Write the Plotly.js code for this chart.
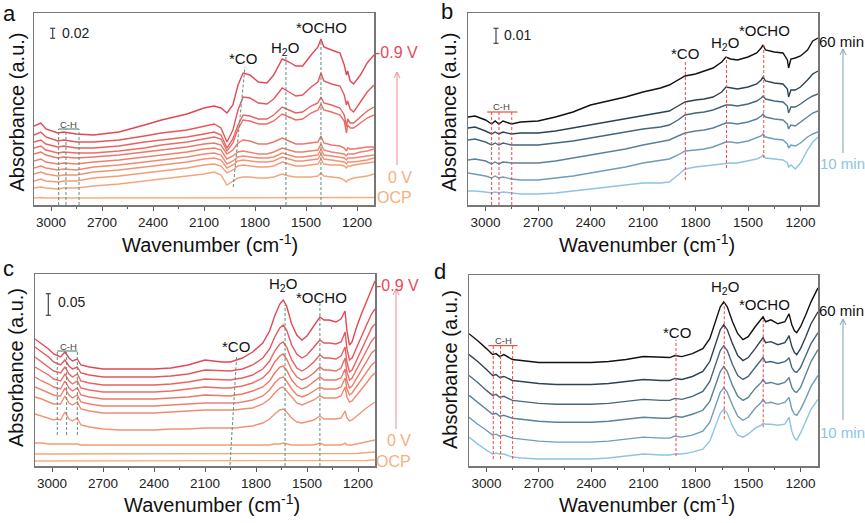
<!DOCTYPE html>
<html><head><meta charset="utf-8">
<script src="https://cdn.plot.ly/plotly-3.0.1.min.js"></script>
<style>html,body{margin:0;padding:0;background:#fff}#chart{width:865px;height:523px}</style>
</head><body><div id="chart"></div>
<script>
// ---------------- DATA ----------------
// Panel a: potential series (wavenumber, cm-1) ; values in a.u. (stacked)
const wnA = [3100,3060,3030,2960,2925,2850,2750,2600,2450,2350,2200,2100,2040,2000,1965,1930,1900,1870,1830,1780,1730,1690,1640,1600,1560,1520,1470,1430,1412,1395,1350,1300,1275,1262,1255,1240,1220,1180,1140,1100];
const a_OCP = [7,7.5,7,7,7.5,7,7,7.5,7,7.5,7,7.5,7,7,7.5,7,7,7.5,7,7,7.5,7,7.5,7,7,7.5,7,7,7.5,7,7,7.5,7,7,7.5,7,7.5,7,7.5,7.5];
const a_0V  = [17,18,17,16,17,17,19,21,24,26,29,31,33,30,20,24,27,28,28,27,27,28,31,29,28,28,28,29,32,29,28,27,25,23,25,26,27,28,29,31];
const a_m01 = [24,26,24,23,24,24,27,29,32,34,37,40,41,39,32,35,39,40,39,38,38,39,43,41,39,39,40,41,46,41,40,40,39,37,39,39,40,41,42,43];
const a_m02 = [31,33,31,29,30,30,33,35,38,40,43,46,47,45,37,40,44,45,44,43,43,44,48,46,44,44,45,46,51,46,45,44,43,41,43,43,43,44,45,47];
const a_m03 = [37,39,37,35,36,35,38,40,43,45,48,51,52,50,41,44,48,49,48,47,47,48,52,50,48,48,49,50,56,50,49,48,47,45,47,47,47,48,49,50];
const a_m04 = [44,46,43,41,42,41,43,45,48,50,53,56,57,55,46,49,53,54,53,51,51,53,57,55,53,53,54,55,61,55,53,52,51,49,51,51,51,53,54,56];
const a_m05 = [51,53,50,47,48,47,48,50,53,55,58,61,62,60,51,55,62,65,64,61,61,63,67,64,61,61,62,63,69,62,60,59,57,54,57,56,56,57,58,58];
const a_m06 = [57,59,55,52,53,52,52,54,57,60,63,66,68,66,54,62,76,85,84,81,81,84,91,88,85,86,92,95,101,95,93,90,84,72,80,77,77,82,87,90];
const a_m07 = [63,65,61,58,59,57,57,59,63,65,68,71,73,70,57,66,80,90,89,86,86,90,98,95,92,93,99,102,108,102,100,97,90,78,86,82,82,88,94,98];
const a_m08 = [70,73,68,64,65,63,63,65,69,72,75,79,81,77,63,75,95,108,107,102,101,106,117,113,109,110,118,123,132,124,121,119,110,100,104,96,93,103,113,120];
const a_m09 = [79,82,76,72,73,71,70,73,80,85,91,97,99,97,92,100,120,132,130,123,122,130,146,143,139,139,150,158,166,158,155,152,140,130,134,124,121,130,142,150];

// Panel b: time series
const wnB = [3100,3060,3000,2965,2945,2924,2900,2851,2800,2700,2600,2500,2400,2300,2200,2100,2000,1950,1900,1860,1800,1750,1700,1650,1626,1600,1560,1500,1450,1425,1414,1400,1350,1300,1275,1268,1255,1230,1200,1160,1130,1100];
const b_10 = [14,14,13,12,13,12,13,12,11,11,12,14,16,18,20,22,22,23,30,36,38,39,40,41,42,42,42,44,46,48,50,47,46,45,42,38,40,36,42,55,63,68];
const b_20 = [32,31,29,27,29,27,28,26,25,25,27,29,32,35,38,42,45,46,50,54,55,56,58,61,63,63,62,64,67,69,71,68,66,65,61,57,60,59,62,68,71,73];
const b_30 = [45,46,44,41,43,41,43,42,42,42,44,47,50,53,56,60,63,65,69,72,74,75,77,80,82,82,81,83,86,89,91,88,86,85,81,76,80,79,83,88,92,94];
const b_40 = [65,66,63,60,62,60,62,60,60,60,62,64,67,70,73,76,78,80,85,90,92,93,95,98,100,100,99,101,104,107,109,106,104,103,99,92,98,98,101,106,109,111];
const b_50 = [77,78,74,71,73,71,73,71,72,72,74,77,80,83,86,89,92,94,99,103,105,106,108,113,118,117,116,118,121,125,128,124,122,121,116,108,115,115,118,125,131,134];
const b_60 = [88,89,85,81,84,81,84,81,83,84,88,93,100,104,108,113,117,120,125,129,131,134,137,143,148,146,145,148,152,157,160,155,153,152,145,137,146,147,149,155,164,167];

// Panel c: potential series
const wnC = [3100,3060,3020,2990,2969,2950,2924,2900,2880,2851,2830,2780,2700,2600,2500,2400,2300,2200,2100,2000,1950,1920,1880,1820,1760,1720,1690,1660,1640,1620,1590,1560,1530,1500,1460,1424,1400,1370,1330,1300,1285,1276,1265,1250,1235,1210,1180,1150,1120,1100];
const c_OCP = [5,5,5,5,5,5,5,5,5,5,5,5,5,5,5,5,5,5,5,5,5,5,5,5,5,5,5,5,5,5,5,5,5,5,5,5,5,5,5,5,5,5,5,5,5,5,5,5.5,6,6];
const c_0V  = [12,12,12,12,12,12,12,12,12,12,12,12,12,12,12,12,12,12,12,12,12,12,12,12,12,12,12,12,12,12,12,12,12,12,12,12.5,12,12,12,12,12,12,12,12,12,12.5,13,13.5,14,14];
const c_m01 = [23,23,22,22,22,22,22,22,22,22,21,21,21,21,21,21,21,21,21,21,21,21,21,21,21,21,22,22,23,22,21,21,21,21,21,23,21,21,21,21,22,23,21,21,21,22,23,24,25,26];
const c_m02 = [52,50,48,46,47,46,54,47,45,48,41,39,37,36,36,36,37,37,38,38,38,38,39,40,43,47,52,56,57,54,48,44,43,44,46,50,47,47,47,48,52,55,48,45,46,50,54,58,62,64];
const c_m03 = [69,67,64,62,62,62,70,63,61,64,57,55,53,53,53,53,54,55,56,56,56,56,57,58,62,67,73,78,79,75,68,63,61,63,66,70,68,68,68,70,75,79,69,64,65,70,77,83,90,93];
const c_m04 = [79,76,73,71,70,70,78,71,68,71,64,62,60,60,60,60,61,62,63,63,63,63,64,66,70,76,83,88,89,85,77,71,69,71,75,79,77,77,77,79,84,88,77,71,73,79,87,94,101,104];
const c_m05 = [89,85,82,79,78,77,85,78,75,78,71,69,67,67,67,67,68,69,71,70,70,71,72,75,79,85,93,99,100,96,86,80,77,79,84,89,86,86,86,88,93,97,85,78,80,87,96,105,113,116];
const c_m06 = [99,95,91,87,86,85,92,85,82,85,78,76,74,74,74,74,75,77,79,78,78,79,80,83,88,95,104,110,112,107,96,89,86,88,93,99,96,96,95,98,104,108,94,86,88,96,106,116,125,129];
const c_m07 = [109,104,99,95,94,93,99,92,89,92,85,83,81,81,81,81,82,84,87,86,86,87,88,91,97,105,115,122,124,119,106,98,95,98,104,111,108,108,107,110,116,119,104,94,96,105,117,128,138,142];
const c_m08 = [119,114,109,104,102,101,106,100,97,99,93,91,89,89,89,89,90,92,96,95,95,96,97,101,108,117,129,138,141,136,121,112,108,111,119,126,123,123,122,124,130,134,117,106,108,118,130,141,152,157];
const c_m09 = [127,122,117,112,110,109,114,108,105,107,101,99,97,97,97,97,98,101,106,104,104,106,108,114,123,135,150,162,166,160,142,131,126,130,140,149,146,146,144,147,152,155,135,121,124,138,152,165,178,185];

// Panel d: time series
const wnD = [3100,3050,3000,2965,2945,2924,2900,2851,2800,2700,2600,2500,2400,2300,2200,2100,2000,1950,1920,1880,1820,1760,1720,1690,1660,1640,1620,1590,1560,1530,1500,1460,1425,1415,1400,1370,1330,1290,1275,1266,1250,1235,1222,1200,1170,1140,1100];
const d_10 = [29,22,16,12,13,12,12,9,8,7,7,7,7,8,10,12,11,11,12,12,14,17,25,40,53,57,53,40,31,29,32,38,41,43,42,42,41,42,46,49,35,28,26,33,45,57,67];
const d_20 = [49,42,36,31,32,30,31,28,27,25,24,24,24,25,27,29,28,28,30,29,31,35,44,60,74,79,74,61,50,46,49,58,64,67,63,64,62,64,67,69,57,52,51,57,68,80,91];
const d_30 = [71,64,57,52,53,50,51,48,47,45,44,44,44,45,47,49,48,48,50,49,52,56,65,81,95,100,95,81,70,66,69,78,84,87,83,84,82,84,87,89,79,75,74,79,92,105,117];
const d_40 = [91,84,76,71,72,69,70,66,65,63,62,62,62,63,65,67,66,66,68,67,70,75,85,101,116,121,116,102,91,87,90,99,106,109,104,105,103,105,107,109,99,95,94,99,111,123,134];
const d_50 = [112,105,97,91,92,89,90,86,85,83,82,82,82,83,85,87,86,86,88,87,90,95,105,122,137,142,137,123,111,106,109,118,126,129,124,125,122,124,128,131,120,114,112,118,130,143,155];
const d_60 = [133,126,118,112,113,110,112,107,106,104,104,104,104,105,107,110,109,109,111,110,113,118,128,145,160,165,160,145,133,127,130,140,148,150,145,147,143,145,150,153,142,136,134,140,152,165,179];

// Band positions (cm-1)
const bandCH_a = [2955,2912,2835], bandCH_b = [2965,2923,2850], bandCH_c = [2969,2914,2851], bandCH_d = [2961,2919,2850];
const tickVals = [3000,2700,2400,2100,1800,1500,1200];
const minorVals = [2850,2550,2250,1950,1650,1350];

// ---------------- STYLE ----------------
const FONT = 'Liberation Sans, Arial, sans-serif';
const W = 865, H = 523;
const P = px => px / W, Q = py => 1 - py / H;
const colA = ['#F8AE7C','#F6A57A','#F49C77','#F29374','#F08A71','#EE816E','#EC776A','#EA6D66','#E86262','#E6555C','#E44656'];
const colB = ['#8CC4E4','#6D9DB9','#58829B','#45677C','#2D4352','#111111'];
const greenDash = '#5E8E7A', redDash = '#F04A40';

const traces = [];
function addSet(wn, arrs, cols, ax){
  arrs.forEach((arr,i)=>traces.push({type:'scatter',mode:'lines',x:wn,y:arr,xaxis:'x'+ax,yaxis:'y'+ax,
    line:{color:cols[i],width:1.4},hoverinfo:'skip',showlegend:false}));
}
addSet(wnA,[a_OCP,a_0V,a_m01,a_m02,a_m03,a_m04,a_m05,a_m06,a_m07,a_m08,a_m09],colA,'');
addSet(wnB,[b_10,b_20,b_30,b_40,b_50,b_60],colB,'2');
addSet(wnC,[c_OCP,c_0V,c_m01,c_m02,c_m03,c_m04,c_m05,c_m06,c_m07,c_m08,c_m09],colA,'3');
addSet(wnD,[d_10,d_20,d_30,d_40,d_50,d_60],colB,'4');

function xax(d0,d1,anc){
  return {domain:[P(d0),P(d1)],range:[3100,1100],anchor:anc,tickvals:tickVals,ticktext:tickVals.map(String),
    ticks:'outside',ticklen:4,tickwidth:1,tickcolor:'#555',showline:true,mirror:true,linecolor:'#777',linewidth:1.5,
    showgrid:false,zeroline:false,tickfont:{family:FONT,size:13.5,color:'#222'},
    minor:{tickvals:minorVals,ticks:'outside',ticklen:2.5,tickcolor:'#555',showgrid:false}};
}
function yax(t,b,anc){
  return {domain:[Q(b),Q(t)],range:[0,192],anchor:anc,showticklabels:false,ticks:'',showline:true,mirror:true,
    linecolor:'#777',linewidth:1.5,showgrid:false,zeroline:false};
}

const shapes = [], ann = [];
function dline(ax,x0,y0,x1,y1,color){
  shapes.push({type:'line',xref:'x'+ax,yref:'y'+ax,x0:x0,y0:y0,x1:x1,y1:y1,line:{color:color,width:1,dash:'3px,2px'}});
}
function sline(ax,x0,y0,x1,y1,color){
  shapes.push({type:'line',xref:'x'+ax,yref:'y'+ax,x0:x0,y0:y0,x1:x1,y1:y1,line:{color:color,width:1.2}});
}
function dtext(ax,x,y,txt,size,color){
  ann.push({xref:'x'+ax,yref:'y'+ax,x:x,y:y,text:txt,showarrow:false,xanchor:'center',yanchor:'middle',
    font:{family:FONT,size:size,color:color||'#111'}});
}
function ptext(px,py,txt,size,color,xa,angle){
  ann.push({xref:'paper',yref:'paper',x:P(px),y:Q(py),text:txt,showarrow:false,xanchor:xa||'center',yanchor:'middle',
    textangle:angle||0,font:{family:FONT,size:size,color:color||'#111'}});
}
function parrow(px,pyHead,pyTail,color){
  shapes.push({type:'line',xref:'paper',yref:'paper',x0:P(px),x1:P(px),y0:Q(pyTail),y1:Q(pyHead+1),line:{color:color,width:1}});
  shapes.push({type:'path',xref:'paper',yref:'paper',
    path:'M '+P(px-3)+' '+Q(pyHead+6)+' L '+P(px)+' '+Q(pyHead)+' L '+P(px+3)+' '+Q(pyHead+6),
    line:{color:color,width:1}});
}
function scalebar(px,py0,py1){
  const c='#444';
  shapes.push({type:'line',xref:'paper',yref:'paper',x0:P(px),x1:P(px),y0:Q(py0),y1:Q(py1),line:{color:c,width:1.2}});
  shapes.push({type:'line',xref:'paper',yref:'paper',x0:P(px-2.5),x1:P(px+2.5),y0:Q(py0),y1:Q(py0),line:{color:c,width:1.2}});
  shapes.push({type:'line',xref:'paper',yref:'paper',x0:P(px-2.5),x1:P(px+2.5),y0:Q(py1),y1:Q(py1),line:{color:c,width:1.2}});
}

// Panel a annotations
bandCH_a.forEach(w=>dline('',w,0,w,76,greenDash));
sline('',bandCH_a[0],76,bandCH_a[2],76,greenDash);
dtext('',2898,81,'C-H',9.5,'#444');
dline('',1928,18,1859,138,greenDash);
dline('',1618,0,1618,150,greenDash);
dline('',1412,0,1412,163,greenDash);
dtext('',1870,147,'*CO',15);
dtext('',1624,157,'H<sub>2</sub>O',15);
dtext('',1406,178,'*OCHO',15);
scalebar(52.7,28.3,38.3); ptext(60,33.5,'0.02',14,'#222','left');
ptext(373,52,'-0.9 V',16,'#E8485C','left');
ptext(386,177,'0 V',16,'#F5B07F','left');
ptext(375,197,'OCP',16,'#F5B07F','left');
parrow(397,72,165,'#F08A98');

// Panel b
bandCH_b.forEach(w=>dline('2',w,0,w,93,redDash));
sline('2',2990,93,2818,93,redDash);
dtext('2',2907,99,'C-H',9.5,'#444');
dline('2',1858,25,1858,143,redDash);
dline('2',1623,37,1623,148,redDash);
dline('2',1410,47,1410,162,redDash);
dtext('2',1860,152,'*CO',15);
dtext('2',1630,162,'H<sub>2</sub>O',15);
dtext('2',1403,175,'*OCHO',15);
scalebar(496,28.3,43.3); ptext(502,35,'0.01',14,'#222','left');
ptext(817,42,'60 min',15,'#111','left');
ptext(818,163,'10 min',15,'#8CC4E4','left');
parrow(843,49,153,'#7F9FB5');

// Panel c
bandCH_c.forEach(w=>dline('3',w,31,w,115,greenDash));
sline('3',bandCH_c[0],115,bandCH_c[2],115,greenDash);
dtext('3',2904,120,'C-H',9.5,'#444');
dline('3',1953,1,1914,109,greenDash);
dline('3',1629,0,1629,161,greenDash);
dline('3',1424,0,1424,165,greenDash);
dtext('3',1920,120,'*CO',15);
dtext('3',1643,182,'H<sub>2</sub>O',15);
dtext('3',1413,169,'*OCHO',15);
scalebar(48.3,293.7,315.3); ptext(56,302,'0.05',14,'#222','left');
ptext(374,285,'-0.9 V',16,'#E8485C','left');
ptext(385,440,'0 V',16,'#F5B07F','left');
ptext(374,461,'OCP',16,'#F5B07F','left');
parrow(396,289,429,'#F08A98');

// Panel d
bandCH_d.forEach(w=>dline('4',w,7,w,121,redDash));
sline('4',2989,121,2823,121,redDash);
dtext('4',2903,126,'C-H',9.5,'#444');
dline('4',1914,10,1914,127,redDash);
dline('4',1637,47,1637,164,redDash);
dline('4',1414,39,1414,149,redDash);
dtext('4',1910,134,'*CO',15);
dtext('4',1633,179,'H<sub>2</sub>O',15);
dtext('4',1404,162,'*OCHO',15);
ptext(817,310,'60 min',15,'#111','left');
ptext(818,432,'10 min',15,'#8CC4E4','left');
parrow(843,319,420,'#7F9FB5');

// Axis titles & panel letters
[[210,243],[647,243],[212,503],[647,503]].forEach(p=>ptext(p[0],p[1],'Wavenumber (cm<sup>-1</sup>)',20,'#111'));
[[16.5,112],[448.5,112],[16,368],[450,369]].forEach(p=>ptext(p[0],p[1],'Absorbance (a.u.)',20,'#111','center',-90));
ptext(1,14,'a',22,'#111','left'); ptext(439,11,'b',22,'#111','left');
ptext(1,268,'c',22,'#111','left'); ptext(432,271,'d',22,'#111','left');

const layout = {
  width:W,height:H,margin:{l:0,r:0,t:0,b:0},paper_bgcolor:'#fff',plot_bgcolor:'#fff',showlegend:false,
  font:{family:FONT,color:'#111'},
  xaxis:xax(34,374,'y'), yaxis:yax(13,205,'x'),
  xaxis2:xax(468,818,'y2'), yaxis2:yax(13,205,'x2'),
  xaxis3:xax(35,375,'y3'), yaxis3:yax(274,466,'x3'),
  xaxis4:xax(469,818,'y4'), yaxis4:yax(275,466,'x4'),
  shapes:shapes, annotations:ann
};
Plotly.newPlot('chart',traces,layout,{staticPlot:true,displayModeBar:false});
</script></body></html>
